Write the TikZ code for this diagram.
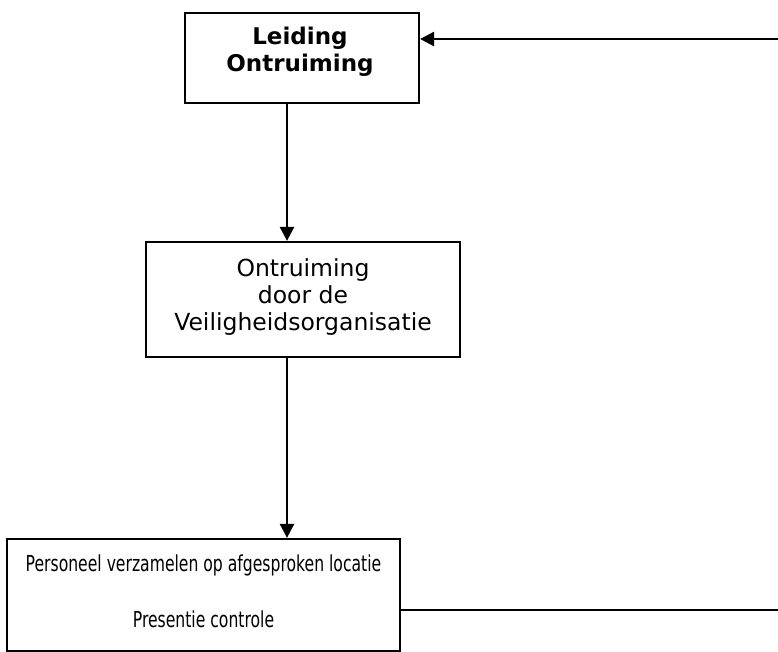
\documentclass[tikz,border=0pt]{standalone}
\usepackage{fontspec}
\setmainfont{DejaVu Sans}
\newfontfamily\condfont{DejaVu Sans}[FakeStretch=0.71]
\usetikzlibrary{arrows.meta}
\begin{document}
\begin{tikzpicture}[x=1pt,y=-1pt,
  box/.style={draw=black, line width=2.2pt, inner sep=0pt},
  txt/.style={inner sep=0pt, align=center},
  conn/.style={line width=2.6pt},
  arr/.style={conn, -{Triangle[length=14pt,width=14pt]}}]
\useasboundingbox (0,0) rectangle (778,652);
\node[box, minimum width=234pt, minimum height=90pt] (b1) at (302,58) {};
\node[txt, font=\fontsize{23}{27}\selectfont\bfseries] (t1) at (300,52) {Leiding\\Ontruiming};
\node[box, minimum width=314pt, minimum height=115pt] (b2) at (303,299.5) {};
\node[txt, font=\fontsize{23.5}{27}\selectfont] (t2) at (303,297) {Ontruiming\\door de\\Veiligheidsorganisatie};
\node[box, minimum width=393pt, minimum height=112pt] (b3) at (203.5,595) {};
\node[txt, font=\fontsize{22}{26}\selectfont\condfont] (t3) at (203.5,591) {Personeel verzamelen op afgesproken locatie\\[30pt]Presentie controle};
\coordinate (vx) at (287,0);
\coordinate (rin) at (778,39);
\coordinate (rout) at (778,610);
\draw[arr] (vx |- b1.south) -- (vx |- b2.north);
\draw[arr] (vx |- b2.south) -- (vx |- b3.north);
\draw[arr] (rin) -- (rin -| b1.east);
\draw[conn] (rout -| b3.east) -- (rout);
\end{tikzpicture}
\end{document}
